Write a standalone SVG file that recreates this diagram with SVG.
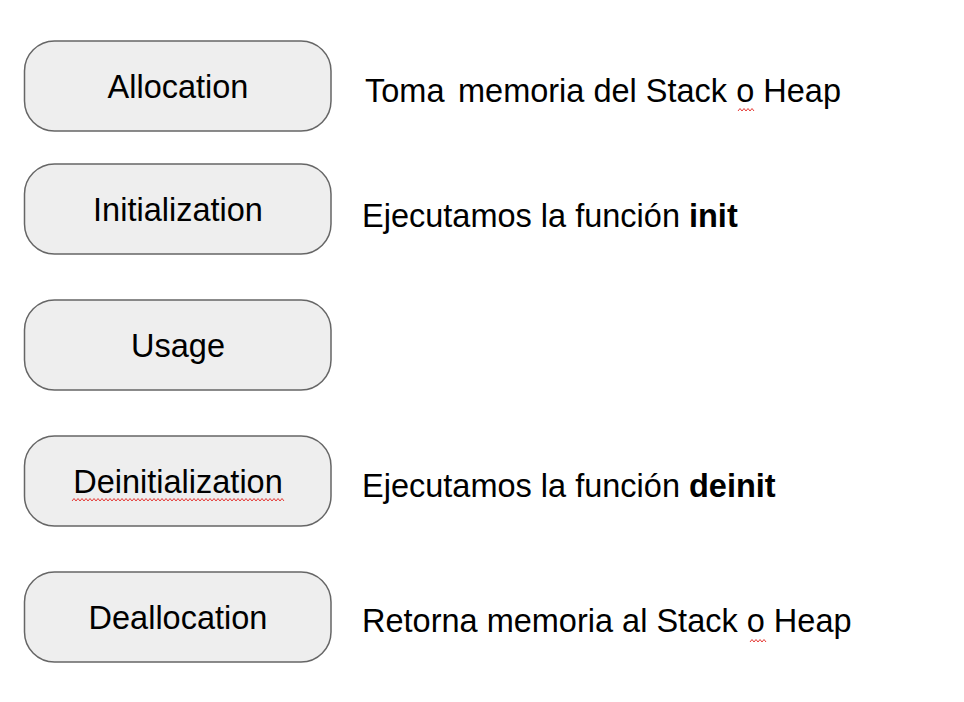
<svg xmlns="http://www.w3.org/2000/svg" width="964" height="702" viewBox="0 0 964 702">
<style>
.box{fill:#eeeeee;stroke:#666666;stroke-width:1.5}
.lbl{font-family:"Liberation Sans",Arial,sans-serif;font-size:32.5px;fill:#000000;text-anchor:middle}
.desc{font-family:"Liberation Sans",Arial,sans-serif;font-size:32.5px;fill:#000000}
.b{font-weight:bold}
.sq{fill:none;stroke:#e53935;stroke-width:1}
</style>
<rect width="964" height="702" fill="#ffffff"/>
<g id="allocation">
<rect class="box" x="24.5" y="41" width="306.5" height="90" rx="30" ry="30"/>
<text class="lbl" x="178" y="98">Allocation</text>
</g>
<g id="initialization">
<rect class="box" x="24.5" y="164" width="306.5" height="90" rx="30" ry="30"/>
<text class="lbl" x="178" y="221">Initialization</text>
</g>
<g id="usage">
<rect class="box" x="24.5" y="300" width="306.5" height="90" rx="30" ry="30"/>
<text class="lbl" x="178" y="357">Usage</text>
</g>
<g id="deinitialization">
<rect class="box" x="24.5" y="436" width="306.5" height="90" rx="30" ry="30"/>
<text class="lbl" x="178" y="493">Deinitialization</text>
<path class="sq" d="M72 501 l2 -2.5 l2 2.5 l2 -2.5 l2 2.5 l2 -2.5 l2 2.5 l2 -2.5 l2 2.5 l2 -2.5 l2 2.5 l2 -2.5 l2 2.5 l2 -2.5 l2 2.5 l2 -2.5 l2 2.5 l2 -2.5 l2 2.5 l2 -2.5 l2 2.5 M112 501 l2 -2.5 l2 2.5 l2 -2.5 l2 2.5 l2 -2.5 l2 2.5 l2 -2.5 l2 2.5 l2 -2.5 l2 2.5 l2 -2.5 l2 2.5 l2 -2.5 l2 2.5 l2 -2.5 l2 2.5 l2 -2.5 l2 2.5 l2 -2.5 l2 2.5 M152 501 l2 -2.5 l2 2.5 l2 -2.5 l2 2.5 l2 -2.5 l2 2.5 l2 -2.5 l2 2.5 l2 -2.5 l2 2.5 l2 -2.5 l2 2.5 l2 -2.5 l2 2.5 l2 -2.5 l2 2.5 l2 -2.5 l2 2.5 l2 -2.5 l2 2.5 M192 501 l2 -2.5 l2 2.5 l2 -2.5 l2 2.5 l2 -2.5 l2 2.5 l2 -2.5 l2 2.5 l2 -2.5 l2 2.5 l2 -2.5 l2 2.5 l2 -2.5 l2 2.5 l2 -2.5 l2 2.5 l2 -2.5 l2 2.5 l2 -2.5 l2 2.5 M232 501 l2 -2.5 l2 2.5 l2 -2.5 l2 2.5 l2 -2.5 l2 2.5 l2 -2.5 l2 2.5 l2 -2.5 l2 2.5 l2 -2.5 l2 2.5 l2 -2.5 l2 2.5 l2 -2.5 l2 2.5 l2 -2.5 l2 2.5 l2 -2.5 l2 2.5 M272 501 l2 -2.5 l2 2.5 l2 -2.5 l2 2.5 l2 -2.5 l2 2.5"/>
</g>
<g id="deallocation">
<rect class="box" x="24.5" y="572" width="306.5" height="90" rx="30" ry="30"/>
<text class="lbl" x="178" y="629">Deallocation</text>
</g>
<g id="descriptions">
<text class="desc" x="365" y="102">Toma <tspan x="458">memoria del Stack o Heap</tspan></text>
<path class="sq" d="M738 111 l2 -2.5 l2 2.5 l2 -2.5 l2 2.5 l2 -2.5 l2 2.5 l2 -2.5 l2 2.5"/>
<text class="desc" x="362" y="227">Ejecutamos la función <tspan class="b">init</tspan></text>
<text class="desc" x="362" y="497">Ejecutamos la función <tspan class="b">deinit</tspan></text>
<text class="desc" x="362" y="632">Retorna memoria al Stack o Heap</text>
<path class="sq" d="M750 642 l2 -2.5 l2 2.5 l2 -2.5 l2 2.5 l2 -2.5 l2 2.5 l2 -2.5 l2 2.5"/>
</g>
<g id="connectors"></g>
</svg>
